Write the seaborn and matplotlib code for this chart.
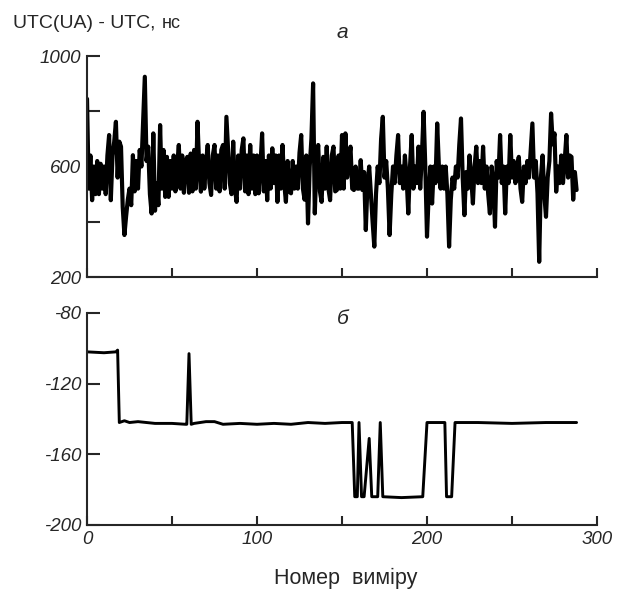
import numpy as np
import pandas as pd
import matplotlib
matplotlib.use("Agg")
import matplotlib.pyplot as plt
import seaborn as sns
from matplotlib.ticker import FixedLocator, FuncFormatter

top_values = [
    845, 520, 640, 478, 600, 500, 620, 500, 610, 520,
    600, 500, 640, 714, 478, 640, 690, 762, 560, 690,
    672, 454, 352, 420, 480, 520, 460, 641, 510, 620,
    520, 660, 600, 760, 925, 620, 672, 500, 430, 720,
    440, 540, 460, 750, 520, 660, 490, 635, 490, 620,
    520, 640, 510, 600, 678, 520, 640, 505, 620, 635,
    505, 647, 510, 660, 520, 762, 600, 509, 640, 520,
    611, 678, 540, 497, 640, 678, 520, 640, 510, 660,
    678, 520, 780, 660, 540, 500, 690, 520, 472, 640,
    520, 660, 702, 510, 640, 500, 678, 520, 640, 500,
    640, 503, 600, 720, 510, 620, 478, 640, 520, 666,
    540, 640, 472, 640, 520, 678, 540, 472, 620, 510,
    503, 620, 520, 600, 520, 650, 714, 520, 480, 640,
    394, 600, 700, 901, 430, 620, 678, 510, 472, 635,
    520, 672, 520, 478, 640, 672, 510, 515, 640, 520,
    714, 520, 720, 560, 620, 672, 520, 515, 600, 520,
    520, 623, 515, 580, 370, 540, 600, 500, 400, 310,
    500, 600, 540, 700, 780, 560, 620, 520, 352, 500,
    600, 540, 640, 714, 540, 600, 520, 640, 560, 430,
    600, 714, 520, 600, 540, 672, 520, 640, 798, 600,
    346, 500, 600, 466, 600, 540, 756, 600, 520, 600,
    520, 600, 500, 310, 480, 560, 520, 600, 560, 680,
    774, 560, 424, 580, 520, 640, 560, 466, 600, 672,
    540, 620, 540, 672, 520, 600, 500, 430, 600, 540,
    382, 620, 560, 714, 540, 600, 430, 600, 540, 714,
    560, 620, 540, 600, 635, 520, 472, 600, 540, 620,
    560, 660, 756, 560, 620, 503, 255, 560, 640, 500,
    418, 560, 620, 792, 680, 720, 509, 600, 540, 640,
    540, 620, 714, 560, 640, 635, 480, 580, 515,
]
top_x = list(range(len(top_values)))

# (б) vertices of the step-like trace
bot_x = [0, 10, 17, 18, 19, 22, 25, 30, 35, 40, 50, 58, 58.7, 60, 61.3, 63,
         70, 75, 80, 90, 100, 110, 120, 130, 140, 150, 156, 157.5, 159, 160,
         161.5, 163, 166, 167.5, 171, 172.5, 174, 185, 197.5, 200, 210.5,
         211.5, 214.5, 216.5, 230, 250, 270, 288]
bot_y = [-102, -102.5, -102, -101, -142, -141, -142, -141.5, -142, -142.5,
         -142.5, -143, -143, -103, -143, -142.5, -141.5, -141.5, -143, -142.5,
         -143, -142.5, -143, -142, -142.5, -142, -142, -184, -184, -142,
         -184, -184, -151, -184, -184, -142, -184, -184.5, -184, -142, -142,
         -184, -184, -142, -142, -142.5, -142, -142]

top_df = pd.DataFrame({"n": top_x, "v": top_values})
bot_df = pd.DataFrame({"n": bot_x, "v": bot_y})

sns.set_style("ticks")
plt.rcParams["font.family"] = ["Liberation Sans", "DejaVu Sans"]

fig = plt.figure(figsize=(6.18, 5.9), dpi=100)
ax1 = fig.add_axes([0.1408, 0.5305, 0.8252, 0.3745])
ax2 = fig.add_axes([0.1408, 0.1102, 0.8252, 0.3593])

sns.lineplot(data=top_df, x="n", y="v", ax=ax1, color="black", lw=3.0,
             estimator=None, sort=False)
sns.lineplot(data=bot_df, x="n", y="v", ax=ax2, color="black", lw=2.1,
             estimator=None, sort=False)

for ax in (ax1, ax2):
    ax.set_xlim(0, 300)
    ax.xaxis.set_major_locator(FixedLocator([0, 50, 100, 150, 200, 250, 300]))
    for s in ("top", "right"):
        ax.spines[s].set_visible(False)
    for s in ("left", "bottom"):
        ax.spines[s].set_linewidth(1.5)
    ax.tick_params(axis="y", direction="in", length=9, width=1.5, pad=4,
                   labelsize=13.5)
    ax.tick_params(axis="x", direction="in", length=6.5, width=1.5, pad=4,
                   labelsize=13.5)
    ax.set_xlabel("")
    ax.set_ylabel("")

ax1.set_ylim(200, 1000)
ax1.yaxis.set_major_locator(FixedLocator([200, 400, 600, 800, 1000]))
ax1.yaxis.set_major_formatter(FuncFormatter(
    lambda v, p: f"{v:.0f}" if v in (200, 600, 1000) else ""))
ax1.xaxis.set_major_formatter(FuncFormatter(lambda v, p: ""))

ax2.set_ylim(-200, -80)
ax2.yaxis.set_major_locator(FixedLocator([-200, -160, -120, -80]))
ax2.yaxis.set_major_formatter(FuncFormatter(lambda v, p: f"{v:.0f}"))
ax2.xaxis.set_major_formatter(FuncFormatter(
    lambda v, p: f"{v:.0f}" if v in (0, 100, 200, 300) else ""))

for ax in (ax1, ax2):
    for lab in ax.get_xticklabels() + ax.get_yticklabels():
        lab.set_fontstyle("italic")

fig.text(13 / 618, 1 - 23 / 590, "UTC(UA) - UTC,", fontsize=14,
         ha="left", va="center")
fig.text(162 / 618, 1 - 24 / 590, "нс", fontsize=13,
         ha="left", va="center")
fig.text(342 / 618, 1 - 33 / 590, "a", fontsize=15, style="italic",
         ha="center", va="center")
fig.text(343 / 618, 1 - 318 / 590, "б", fontsize=15, style="italic",
         ha="center", va="center")
fig.text(346 / 618, 1 - 578 / 590, "Номер  виміру", fontsize=15.5,
         ha="center", va="center")

fig.savefig("out.png", dpi=100)
